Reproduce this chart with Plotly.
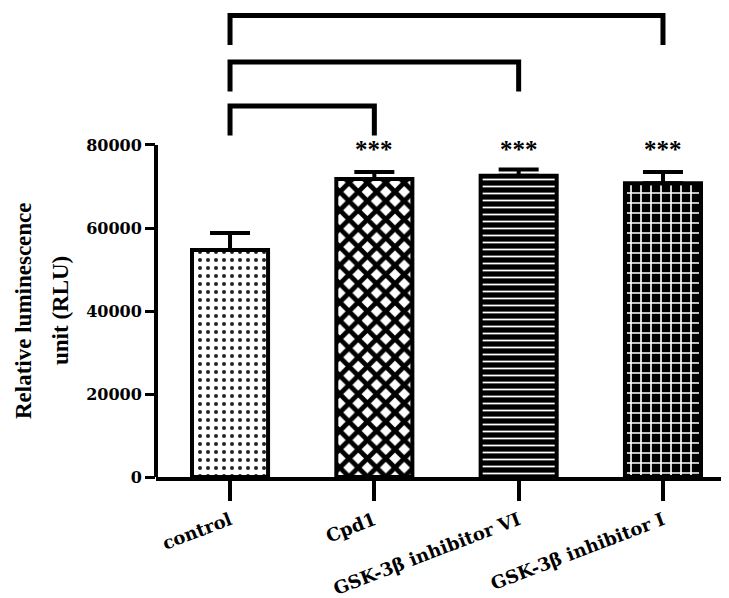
import plotly.graph_objects as go

# ---- data ----
categories = ["control", "Cpd1", "GSK-3β inhibitor VI", "GSK-3β inhibitor I"]
means = [54700, 71800, 72600, 70800]
sd_upper = [4100, 1700, 1500, 2700]
y_ticks = [0, 20000, 40000, 60000, 80000]
significance = ["", "***", "***", "***"]
comparisons = [(0, 1), (0, 2), (0, 3)]
bracket_tops = [89400, 100000, 111200]

# ---- styling ----
x_pos = list(range(len(categories)))
pattern_shapes = [".", "x", "-", "+"]
pattern_fg = ["#222222", "black", "white", "white"]
pattern_bg = ["white", "white", "black", "black"]
pattern_size = [8, 13, 7, 10]
pattern_solid = [0.2, 0.6, 0.25, 0.3]

fig = go.Figure()
for i in x_pos:
    fig.add_trace(go.Bar(
        x=[x_pos[i]], y=[means[i]], width=0.527,
        marker=dict(
            color=pattern_bg[i],
            line=dict(color="black", width=4),
            pattern=dict(shape=pattern_shapes[i], fgcolor=pattern_fg[i],
                         bgcolor=pattern_bg[i], size=pattern_size[i],
                         solidity=pattern_solid[i], fillmode="replace"),
        ),
        error_y=dict(type="data", symmetric=False, array=[sd_upper[i]],
                     arrayminus=[0], color="black", thickness=4, width=20),
        showlegend=False,
    ))

for xi, lab in zip(x_pos, significance):
    if lab:
        fig.add_annotation(x=xi, y=79000, xref="x", yref="y", text=f"<b>{lab}</b>",
                           showarrow=False, yanchor="middle",
                           font=dict(family="Liberation Serif", size=25, color="black"))

leg = 7100
for (a, b), top in zip(comparisons, bracket_tops):
    fig.add_shape(type="path", xref="x", yref="y",
                  path=f"M {a},{top - leg} L {a},{top} L {b},{top} L {b},{top - leg}",
                  line=dict(color="black", width=5))

# y axis line only up to the last tick
fig.add_shape(type="line", xref="paper", yref="y", x0=0, x1=0, y0=0, y1=y_ticks[-1],
              line=dict(color="black", width=4))

title_lines = ["Relative luminescence", "unit (RLU)"]
for line, xp in zip(title_lines, [23, 60]):
    fig.add_annotation(xref="paper", yref="y", x=(xp - 156) / 566, y=40000,
                       xanchor="center", yanchor="middle", textangle=-90,
                       showarrow=False, text=f"<b>{line}</b>",
                       font=dict(family="Liberation Serif", size=23, color="black"))

fig.update_layout(
    width=721, height=590, autosize=False,
    margin=dict(l=148, r=7, t=0, b=121, autoexpand=False),
    paper_bgcolor="white", plot_bgcolor="white",
    barmode="overlay",
    xaxis=dict(range=[-0.513, 3.409], tickvals=x_pos,
               ticktext=[f"<b>{c}</b>" for c in categories],
               tickangle=-21, showline=True, linecolor="black", linewidth=4,
               ticks="outside", ticklen=20, tickwidth=4, tickcolor="black",
               showgrid=False, zeroline=False, automargin=False,
               tickfont=dict(family="DejaVu Serif", size=18, color="black")),
    yaxis=dict(range=[0, 113010], tickvals=y_ticks, ticktext=[f"<b>{v}</b>" for v in y_ticks],
               showline=False, ticks="outside", ticklen=10, tickwidth=3, tickcolor="black",
               showgrid=False, zeroline=False, automargin=False,
               tickfont=dict(family="DejaVu Serif", size=16, color="black")),
)
try:
    fig.update_xaxes(ticklabelstandoff=2)
except Exception:
    pass

fig.write_html("out.html")
